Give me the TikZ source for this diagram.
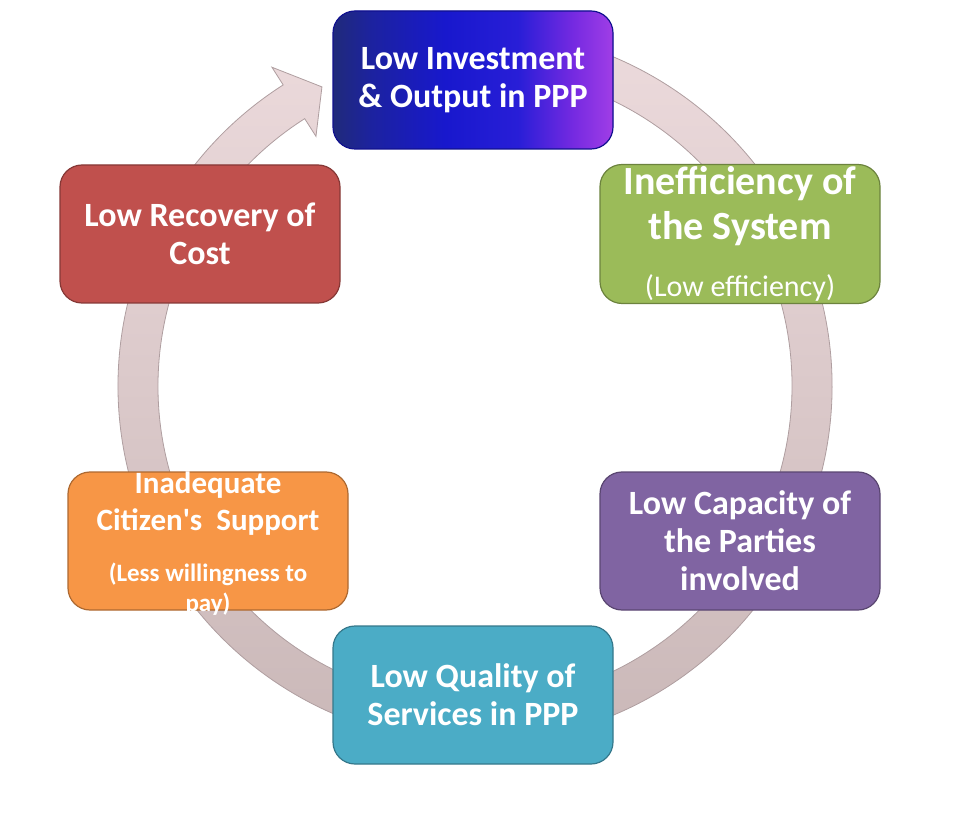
\documentclass[tikz,border=0pt]{standalone}
\usepackage{fontspec}
\setmainfont{Carlito}
\usepackage{tikz}
\definecolor{cnavy}{RGB}{32, 42, 122}
\definecolor{cnavyb}{RGB}{28, 34, 160}
\definecolor{cblue}{RGB}{24, 24, 205}
\definecolor{cblueb}{RGB}{40, 30, 215}
\definecolor{cviolet}{RGB}{118, 42, 225}
\definecolor{cvioletb}{RGB}{160, 62, 230}
\definecolor{cgreen}{RGB}{155, 187, 89}
\definecolor{cred}{RGB}{192, 80, 77}
\definecolor{corange}{RGB}{247, 150, 70}
\definecolor{cpurple}{RGB}{128, 100, 162}
\definecolor{cteal}{RGB}{75, 172, 198}
\definecolor{ringtop}{RGB}{238, 220, 222}
\definecolor{ringbot}{RGB}{200, 182, 182}
\definecolor{ringedge}{RGB}{175, 158, 160}
\usetikzlibrary{calc, positioning}
\pgfdeclarehorizontalshading{investshade}{100bp}{color(0bp)=(cnavy); color(25bp)=(cnavy);
    color(32bp)=(cnavyb); color(45bp)=(cblue); color(58bp)=(cblueb);
    color(68bp)=(cviolet); color(75bp)=(cvioletb); color(100bp)=(cvioletb)}
\newcommand\boxfont{\bfseries\fontsize{34}{38}\selectfont}
\newcommand\titlefont{\bfseries\fontsize{40}{45}\selectfont}
\newcommand\notefont{\mdseries\fontsize{30}{36}\selectfont}
\newcommand\smallbold{\bfseries\fontsize{25}{30}\selectfont}

\begin{document}
\begin{tikzpicture}[
    x=1pt, y=1pt,
    box/.style={draw=#1!70!black, fill=#1, line width=1.2pt, rounded corners=22pt,
                minimum width=280pt, minimum height=138pt, inner sep=2pt,
                align=center, text=white, font=\boxfont},
    boxtext/.style={align=center, text=white, font=\boxfont, inner sep=0pt}
]
    \useasboundingbox (0,0) rectangle (960,812);

    % Circular arrow
    \coordinate (c) at (475,426);
    \shade[top color=ringtop, bottom color=ringbot, draw=ringedge, line width=0.8pt]
        ($(c)+(105:357)$) arc[start angle=105, end angle=-237.5, radius=357pt]
        -- ($(c)+(-237.5:378)$) -- ($(c)+(-242.9:336)$) -- ($(c)+(-237.5:296)$)
        -- ($(c)+(-237.5:317)$) arc[start angle=-237.5, end angle=105, radius=317pt]
        -- cycle;

    % Nodes
    \node[box=cblue, shading=investshade, shade]
        (invest) at (473,732) {Low Investment\\\& Output in PPP};
    \node[box=cgreen, font=\titlefont] (ineff) at (740,578)
        {Inefficiency of\\the System\\[12pt]{\notefont (Low efficiency)}};
    \node[box=cpurple] (capacity) at (740,271) {Low Capacity of\\the Parties\\involved};
    \node[box=cteal] (quality) at (473,117) {Low Quality of\\Services in PPP};
    \node[box=corange] (support) at (208,271) {};
    \node[boxtext, font=\bfseries\fontsize{31}{37}\selectfont] (supporttext) at ([yshift=-3pt]support.center)
        {Inadequate\\Citizen\textquotesingle s~~Support\\[14pt]{\smallbold (Less willingness to}\\[-7pt]{\smallbold pay)}};
    \node[box=cred] (recovery) at (200,578) {Low Recovery of\\Cost};
\end{tikzpicture}
\end{document}
